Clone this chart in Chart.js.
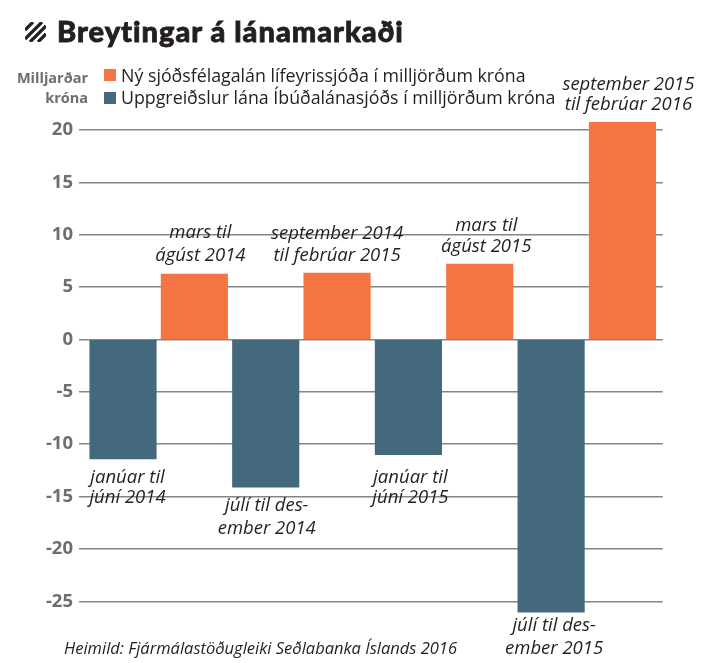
<!DOCTYPE html>
<html>
<head>
<meta charset="utf-8">
<script src="https://cdn.jsdelivr.net/npm/chart.js@4"></script>
<style>
    body { margin: 0; background: #fff; font-family: "Open Sans", sans-serif; }
    #wrap { position: relative; width: 713px; height: 663px; overflow: hidden; }
    canvas { position: absolute; left: 0; top: 0; }
    .txt { position: absolute; white-space: nowrap; }
    #title { left: 57px; top: 13px; font: 900 29px Lato, sans-serif; letter-spacing: 1px; -webkit-text-stroke: 0.8px #231f20; color: #231f20; }
    #unit { left: 0; top: 68px; width: 88px; text-align: right; font: 700 14.5px/20px "Open Sans", sans-serif; color: #6d6e71; }
    .leg { left: 121px; font-size: 17.8px; color: #231f20; }
    .swatch { position: absolute; left: 104px; width: 12px; height: 12px; }
    #source { left: 64px; top: 636px; font: italic 16.5px "Open Sans", sans-serif; color: #231f20; }
</style>
</head>
<body>
<div id="wrap">
    <canvas id="chart" width="713" height="663"></canvas>
    <svg class="txt" style="left:25px;top:22px" width="21" height="20" viewBox="0 0 21 20">
        <path d="M0 8 L8 0 M0 17 L17 0 M5 20 L21 4 M13 20 L21 12" stroke="#231f20" stroke-width="3.2" fill="none"/>
    </svg>
    <div class="txt" id="title">Breytingar á lánamarkaði</div>
    <div class="txt" id="unit">Milljarðar<br>króna</div>
    <div class="swatch" style="top:69px;background:#f47542"></div>
    <div class="txt leg" style="top:63px">Ný sjóðsfélagalán lífeyrissjóða í milljörðum króna</div>
    <div class="swatch" style="top:92px;background:#45697c"></div>
    <div class="txt leg" style="top:85px">Uppgreiðslur lána Íbúðalánasjóðs í milljörðum króna</div>
    <div class="txt" id="source">Heimild: Fjármálastöðugleiki Seðlabanka Íslands 2016</div>
</div>
<script>
// Data
const periods = [
    ['janúar til', 'júní 2014'],
    ['mars til', 'ágúst 2014'],
    ['júlí til des-', 'ember 2014'],
    ['september 2014', 'til febrúar 2015'],
    ['janúar til', 'júní 2015'],
    ['mars til', 'ágúst 2015'],
    ['júlí til des-', 'ember 2015'],
    ['september 2015', 'til febrúar 2016']
];
const newLoans = [null, 6.25, null, 6.35, null, 7.2, null, 20.75];
const repayments = [-11.4, null, -14.1, null, -11.0, null, -26.05, null];
const yTicks = [20, 15, 10, 5, 0, -5, -10, -15, -20, -25];
const seriesNames = ['Ný sjóðsfélagalán lífeyrissjóða í milljörðum króna', 'Uppgreiðslur lána Íbúðalánasjóðs í milljörðum króna'];

// Hand placement of the period names, in pixels from the end of each bar
const labelDx = [4.5, 6, 1, 0, 2, 6.5, 3, 6];
const labelDy = [19, -41, 19, -39, 23, -38, 13, -37];
const labelGap = [20, 23, 23, 22, 20, 21, 23, 20];

function toPoints(values) {
    return values.map((v, i) => ({ x: i, y: v }));
}

const periodLabels = {
    id: 'periodLabels',
    afterDatasetsDraw(chart) {
        const { ctx, scales } = chart;
        ctx.save();
        ctx.font = 'italic 18.5px "Open Sans", sans-serif';
        ctx.fillStyle = '#231f20';
        ctx.textAlign = 'center';
        ctx.textBaseline = 'middle';
        periods.forEach((lines, i) => {
            const value = newLoans[i] !== null ? newLoans[i] : repayments[i];
            const x = scales.x.getPixelForValue(i) + labelDx[i];
            const end = scales.y.getPixelForValue(value);
            lines.forEach((line, n) => {
                ctx.fillText(line, x, end + labelDy[i] + n * labelGap[i]);
            });
        });
        ctx.restore();
    }
};

new Chart(document.getElementById('chart').getContext('2d'), {
    type: 'bar',
    data: {
        datasets: [
            { label: seriesNames[0], data: toPoints(newLoans), backgroundColor: '#f47542', grouped: false, barThickness: 66.5 },
            { label: seriesNames[1], data: toPoints(repayments), backgroundColor: '#45697c', grouped: false, barThickness: 66.5 }
        ]
    },
    options: {
        responsive: false,
        animation: false,
        layout: { padding: { top: 119.6, bottom: 40.8, left: 0, right: 50.3 } },
        plugins: { legend: { display: false }, tooltip: { enabled: false } },
        scales: {
            x: { type: 'linear', offset: false, min: -0.617, max: 7.564, display: false },
            y: {
                min: -27,
                max: 21,
                afterBuildTicks(scale) { scale.ticks = yTicks.map(v => ({ value: v })); },
                afterFit(scale) { scale.width = 79; },
                border: { display: false },
                grid: { color: '#858585', lineWidth: 1.5, drawTicks: false },
                ticks: {
                    padding: 6,
                    color: '#6d6e71',
                    font: { family: '"Open Sans", sans-serif', size: 18.5, weight: '700' }
                }
            }
        }
    },
    plugins: [periodLabels]
});
</script>
</body>
</html>
